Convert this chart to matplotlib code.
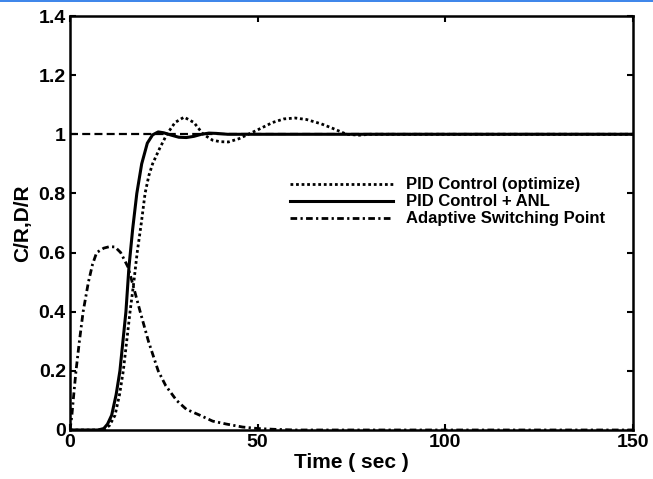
import matplotlib
matplotlib.use("Agg")
import matplotlib.pyplot as plt
from matplotlib.lines import Line2D

# ---- data ----
t_pid = [0, 8.9, 10.5, 12, 13.2, 14.2, 15.1, 16, 17, 17.9, 19, 20, 21, 22, 23.8, 25.8,
         28, 30.4, 33, 35.5, 38, 40, 42.2, 45, 47.5, 50, 54, 57, 60, 63, 67, 70, 73.7,
         77, 80, 150]
y_pid = [0, 0, 0.015, 0.05, 0.12, 0.2, 0.3, 0.4, 0.5, 0.6, 0.7, 0.8, 0.86, 0.9, 0.95, 1.0,
         1.04, 1.058, 1.04, 1.0, 0.98, 0.975, 0.974, 0.985, 1.0, 1.015, 1.04, 1.052, 1.055,
         1.05, 1.035, 1.02, 1.0, 0.997, 1.0, 1.0]

t_anl = [0, 7.5, 9, 10, 11.1, 12.3, 13.3, 14.1, 14.9, 15.7, 16.7, 17.8, 19.1, 20.6, 22,
         23.5, 25, 27, 29, 31, 33, 35, 37, 39, 42, 150]
y_anl = [0, 0, 0.005, 0.02, 0.05, 0.12, 0.2, 0.3, 0.4, 0.55, 0.68, 0.8, 0.9, 0.97, 0.998,
         1.008, 1.005, 0.997, 0.99, 0.989, 0.993, 1.0, 1.004, 1.003, 1.0, 1.0]

t_sw = [0, 0.5, 1, 1.6, 2.5, 3.5, 4.9, 6, 7.1, 9, 10.5, 12, 13.5, 15.5, 17, 18.7, 20.9,
        23.5, 25.5, 28.4, 31, 34.6, 38, 41.7, 46, 50, 55, 60, 150]
y_sw = [0, 0.05, 0.12, 0.2, 0.3, 0.4, 0.5, 0.56, 0.6, 0.615, 0.62, 0.619, 0.6, 0.55, 0.48,
        0.4, 0.3, 0.2, 0.15, 0.1, 0.07, 0.05, 0.03, 0.02, 0.01, 0.005, 0.002, 0, 0]

t_ref = [0, 150]
y_ref = [1, 1]

labels = ["PID Control (optimize)", "PID Control + ANL", "Adaptive Switching Point"]
xticks = [0, 50, 100, 150]
yticks = [0, 0.2, 0.4, 0.6, 0.8, 1, 1.2, 1.4]
ytick_labels = ["0", "0.2", "0.4", "0.6", "0.8", "1", "1.2", "1.4"]

plt.rcParams['font.family'] = ['Liberation Sans', 'DejaVu Sans']
plt.rcParams['font.weight'] = 'bold'

fig = plt.figure(figsize=(6.53, 4.79), dpi=100)
ax = fig.add_axes([70/653, 1-430/479, (633-70)/653, (430-16)/479])

ax.plot(t_ref, y_ref, color='black', lw=1.6, linestyle=(0, (3.6, 1.9)))
l1, = ax.plot(t_pid, y_pid, color='black', lw=2.0, linestyle=(0, (1, 1)))
l2, = ax.plot(t_anl, y_anl, color='black', lw=2.2, linestyle='-')
l3, = ax.plot(t_sw, y_sw, color='black', lw=2.0, linestyle=(0, (2.4, 1.2, 0.8, 1.2)))

ax.set_xlim(0, 150)
ax.set_ylim(0, 1.4)
ax.set_xticks(xticks)
ax.set_xticklabels([str(v) for v in xticks])
ax.set_yticks(yticks)
ax.set_yticklabels(ytick_labels)
ax.tick_params(direction='in', length=4, width=1.5, top=True, right=True,
               labelsize=14, pad=3)
for lab in ax.get_xticklabels() + ax.get_yticklabels():
    lab.set_fontweight('bold')
for s in ax.spines.values():
    s.set_linewidth(1.8)

ax.set_xlabel("Time ( sec )", fontsize=15, fontweight='bold', labelpad=1)
ax.set_ylabel("C/R,D/R", fontsize=15, fontweight='bold', labelpad=5)

leg = fig.legend([l1, l2, l3], labels, loc='center left',
                 bbox_to_anchor=(290/653, 1-202/479), frameon=False,
                 prop={'size': 12, 'weight': 'bold'}, handlelength=6.2,
                 handletextpad=0.75, labelspacing=0.12, borderpad=0,
                 borderaxespad=0)

fig.add_artist(Line2D([0, 1], [0.9985, 0.9985], transform=fig.transFigure,
                      color='#1a6fe6', lw=1.2))

fig.savefig("out.png", dpi=100)
